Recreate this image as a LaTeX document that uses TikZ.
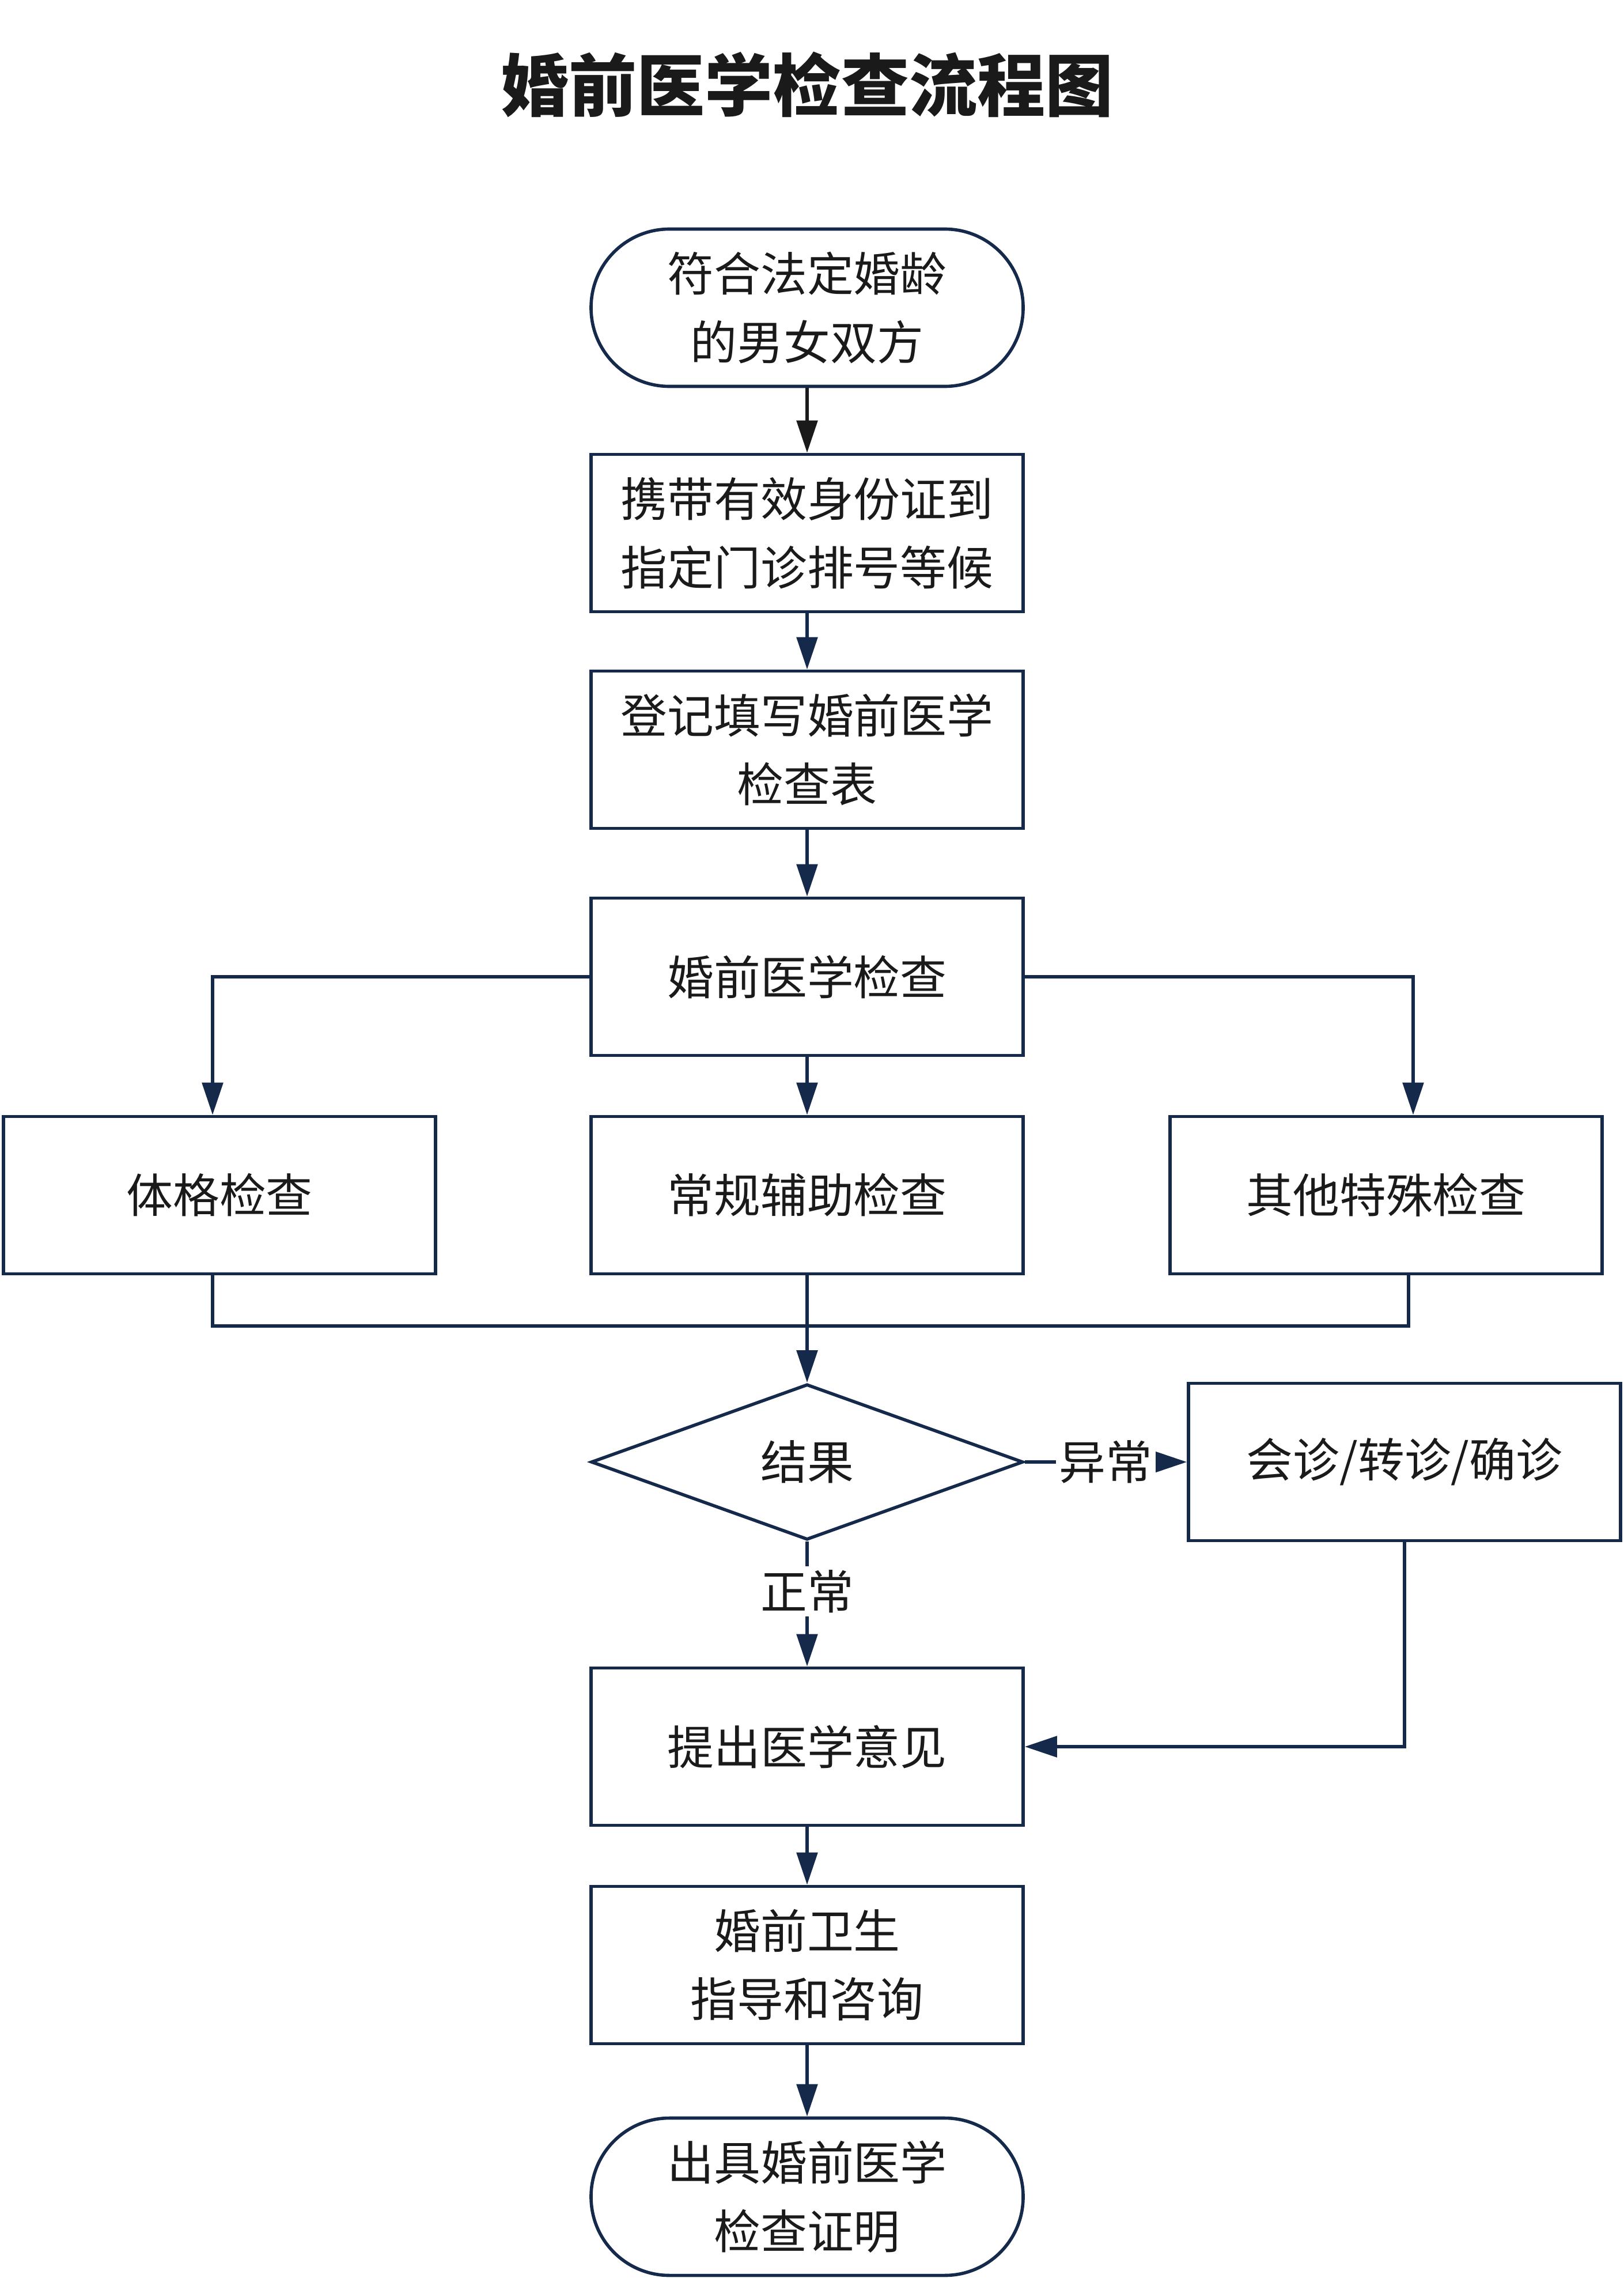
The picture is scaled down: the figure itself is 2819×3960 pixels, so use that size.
\documentclass[tikz,border=0pt]{standalone}
\usepackage{fontspec}
\setmainfont{Noto Sans CJK SC}
\usetikzlibrary{arrows.meta,shapes.geometric}
\definecolor{navy}{HTML}{15294A}
\definecolor{ink}{HTML}{1A1A1A}

\tikzstyle{stage} = [draw=navy,line width=1.4mm,minimum width=187.5mm,minimum height=68.25mm,align=center,text=ink,font=\fontsize{57.5pt}{84.5pt}\selectfont]
\tikzstyle{terminal} = [stage,rounded corners=34mm]
\tikzstyle{decision} = [stage,diamond,aspect=2.78,minimum height=67.5mm,inner sep=0pt]
\tikzstyle{tag} = [fill=white,text=ink,inner sep=1.5mm,font=\fontsize{57.5pt}{84.5pt}\selectfont]
\tikzstyle{link} = [draw=navy,line width=1.4mm]
\tikzstyle{flow} = [link,-{Triangle[length=14mm,width=9mm]}]

\begin{document}
\begin{tikzpicture}[x=0.25mm,y=-0.25mm]
	\useasboundingbox[fill=white] (0,0) rectangle (2819,3960);
	\node[text=ink,font=\fontsize{84pt}{100pt}\selectfont\bfseries] (title) at (1401,147) {婚前医学检查流程图};

	\node[terminal] (n1) at (1401,534) {符合法定婚龄\\的男女双方};
	\node[stage] (n2) at (1401,925) {携带有效身份证到\\指定门诊排号等候};
	\node[stage] (n3) at (1401,1301) {登记填写婚前医学\\检查表};
	\node[stage] (n4) at (1401,1695) {婚前医学检查};
	\node[stage] (n5) at (381,2074) {体格检查};
	\node[stage] (n6) at (1401,2074) {常规辅助检查};
	\node[stage] (n7) at (2406,2074) {其他特殊检查};
	\node[decision] (n8) at (1401,2537) {结果};
	\node[stage] (n9) at (2438,2537) {会诊/转诊/确诊};
	\node[stage] (n10) at (1401,3031) {提出医学意见};
	\node[stage] (n11) at (1401,3410) {婚前卫生\\指导和咨询};
	\node[terminal] (n12) at (1401,3812) {出具婚前医学\\检查证明};
	\coordinate (join) at (1401,2301);

	\draw[flow,draw=ink] (n1) -- (n2);
	\draw[flow] (n2) -- (n3);
	\draw[flow] (n3) -- (n4);
	\draw[flow] (n4) -- (n6);
	\draw[flow] (n4.west) -| ([xshift=-3mm]n5.north);
	\draw[flow] (n4.east) -| ([xshift=11.75mm]n7.north);

	\draw[link] ([xshift=-3mm]n5.south) |- (join);
	\draw[link] ([xshift=9.75mm]n7.south) |- (join);
	\draw[link] (n6.south) -- (join);
	\draw[flow] (join) -- (n8);

	\draw[flow] (n8.east) -- node[tag]{异常} (n9.west);
	\draw[flow] (n8.south) -- node[tag,pos=0.4]{正常} (n10.north);
	\draw[flow] (n9.south) |- (n10.east);
	\draw[flow] (n10) -- (n11);
	\draw[flow] (n11) -- (n12);
\end{tikzpicture}
\end{document}
